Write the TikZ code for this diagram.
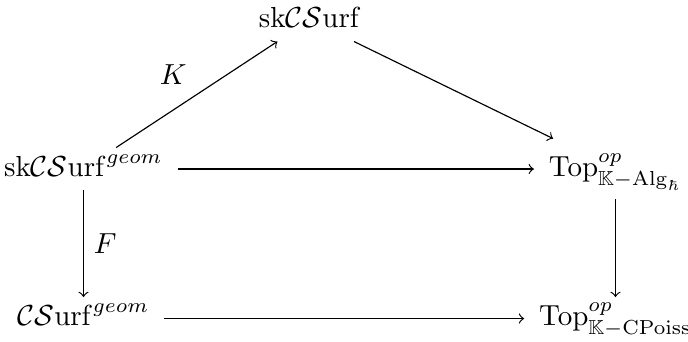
\documentclass[tikz,border=0pt]{standalone}
\usepackage{amssymb}
\begin{document}
\begin{tikzpicture}[
    obj/.style={anchor=base, inner xsep=5pt, inner ysep=2.5pt, text height=7.2pt, text depth=2.2pt},
    tall/.style={text height=10.3pt, text depth=5.3pt}]
    \useasboundingbox (0, 0) rectangle (8.338, 4.133);
    \node[obj] (skcs) at (3.757, 3.802) {$\mathrm{sk}\mathcal{CS}\mathrm{urf}$};
    \node[obj] (skgeom) at (1.012, 1.997) {$\mathrm{sk}\mathcal{CS}\mathrm{urf}^{geom}$};
    \node[obj, tall] (topalg) at (7.459, 1.997) {$\mathrm{Top}^{op}_{\mathbb{K}-\mathrm{Alg}_\hbar}$};
    \node[obj] (csgeom) at (1.012, 0.185) {$\mathcal{CS}\mathrm{urf}^{geom}$};
    \node[obj] (toppoiss) at (7.459, 0.185) {$\mathrm{Top}^{op}_{\mathbb{K}-\mathrm{CPoiss}}$};
    \draw[->] (skgeom) -- node[above left] {$K$} (skcs);
    \draw[->] (skcs) -- (topalg);
    \draw[->] (skgeom) -- (topalg);
    \draw[->] (skgeom) -- node[right] {$F$} (csgeom);
    \draw[->] (topalg) -- (toppoiss);
    \draw[->] (csgeom) -- (toppoiss);
  \end{tikzpicture}
\end{document}
